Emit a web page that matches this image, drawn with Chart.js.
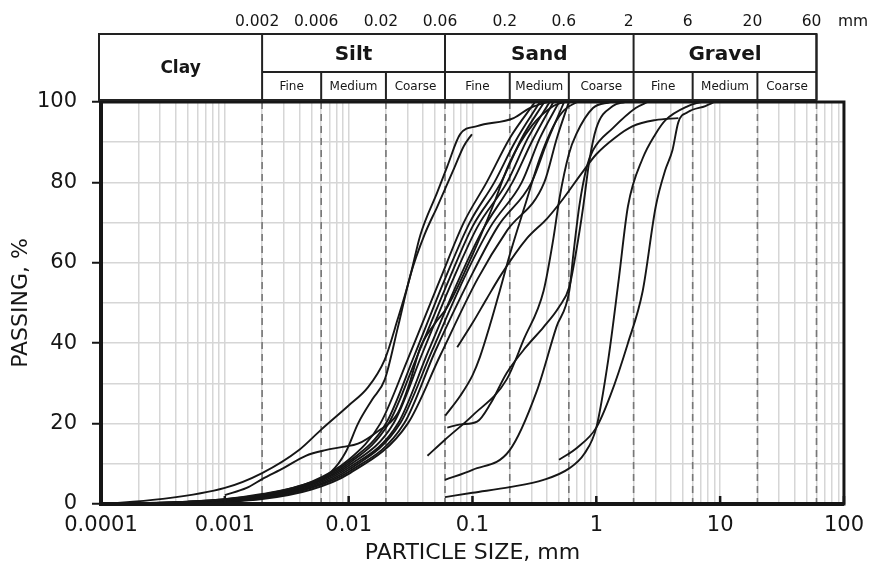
<!DOCTYPE html>
<html>
<head>
<meta charset="utf-8">
<title>Particle size distribution</title>
<script src="https://cdn.jsdelivr.net/npm/chart.js@4.4.1/dist/chart.umd.min.js"></script>
<style>
  html, body { margin: 0; padding: 0; background: #fff; }
  #chart { display: block; }
</style>
</head>
<body>
<canvas id="chart" width="873" height="567"></canvas>
<script>
// grading curves: [particle size mm, % passing]
const sample01 = [[0.0001,0],[0.0003,1.2],[0.001,4],[0.002,7.7],[0.004,13.5],[0.006,18.5],[0.01,24.5],[0.0143,29],[0.0196,36],[0.0249,46],[0.031,56],[0.038,67],[0.052,77.6],[0.0626,84],[0.0796,92],[0.109,94],[0.215,96],[0.29,98.5],[0.4,100]];
const sample02 = [[0.0001,0],[0.0005,0.6],[0.001,1.2],[0.002,2.5],[0.004,4.5],[0.0072,8],[0.0095,13],[0.0119,20],[0.0155,26],[0.0196,31],[0.025,44],[0.0316,57],[0.041,67],[0.052,74],[0.0713,83.6],[0.085,89],[0.099,92]];
const sample03 = [[0.001,2.2],[0.0015,4],[0.002,6.2],[0.003,9],[0.0045,12],[0.0065,13.4],[0.009,14.2],[0.0119,15],[0.017,18],[0.0249,22.6],[0.031,30],[0.038,39],[0.05,45],[0.0626,49],[0.1,62],[0.15,75],[0.2,85],[0.3,94],[0.45,99],[0.55,100]];
const sample04 = [[0.0001,0],[0.0005,0.6],[0.001,1.2],[0.002,2.3],[0.005,5.5],[0.01,11],[0.018,20],[0.03,36],[0.055,56],[0.085,70],[0.13,80],[0.2,91],[0.32,100]];
const sample05 = [[0.0001,0],[0.0005,0.5],[0.001,1.1],[0.002,2.1],[0.005,5.2],[0.01,10.5],[0.02,20],[0.034,37],[0.06,56],[0.095,70],[0.15,80],[0.22,90],[0.35,100]];
const sample06 = [[0.0001,0],[0.0005,0.5],[0.001,1],[0.002,2],[0.005,5],[0.01,10],[0.021,20],[0.036,37],[0.065,56],[0.1,69],[0.17,80],[0.25,91],[0.38,100]];
const sample07 = [[0.0001,0],[0.0005,0.4],[0.001,0.9],[0.002,1.9],[0.005,4.8],[0.01,9.5],[0.023,20],[0.04,38],[0.07,56],[0.11,69],[0.19,80],[0.28,91],[0.42,100]];
const sample08 = [[0.0001,0],[0.0005,0.4],[0.001,0.8],[0.002,1.7],[0.005,4.5],[0.01,9],[0.025,20],[0.044,38],[0.078,56],[0.12,68],[0.21,80],[0.3,90],[0.45,100]];
const sample09 = [[0.0001,0],[0.0005,0.3],[0.001,0.7],[0.002,1.5],[0.005,4.2],[0.01,8.5],[0.026,20],[0.047,38],[0.085,56],[0.14,69],[0.25,80],[0.35,91],[0.5,100]];
const sample10 = [[0.0001,0],[0.0005,0.3],[0.001,0.6],[0.002,1.4],[0.005,4],[0.01,8],[0.028,20],[0.05,38],[0.095,56],[0.16,69],[0.3,80],[0.4,90],[0.55,100]];
const sample11 = [[0.0001,0],[0.0005,0.2],[0.001,0.5],[0.002,1.2],[0.005,3.6],[0.01,7.5],[0.03,20],[0.055,37],[0.11,56],[0.19,68],[0.38,80],[0.48,91],[0.6,100]];
const sample12 = [[0.0603,22],[0.08,27],[0.1,32],[0.115,36.6],[0.14,45],[0.166,53],[0.2,62],[0.27,75],[0.35,86],[0.45,94],[0.55,98],[0.7,100]];
const sample13 = [[0.0626,19],[0.08,19.8],[0.109,20.5],[0.14,25],[0.189,32.6],[0.27,39],[0.375,44],[0.5,49],[0.605,54],[0.689,63],[0.784,74],[0.875,85],[1.0,93.5],[1.36,99],[1.7,100]];
const sample14 = [[0.06,6],[0.1,8.5],[0.2,13.4],[0.33,28],[0.476,44],[0.605,53],[0.652,62],[0.728,74],[0.84,84],[0.94,88],[1.36,93.5],[2.08,98.5],[2.6,100]];
const sample15 = [[0.0433,12],[0.06,16],[0.1,22],[0.189,31],[0.26,41],[0.375,53],[0.45,66],[0.504,76],[0.6,87],[0.689,92],[0.94,98.5],[1.3,100]];
const sample16 = [[0.0753,39],[0.1,45],[0.13,51],[0.17,57],[0.274,66],[0.4,71],[0.542,76],[0.75,82],[1.0,87],[1.4,91],[1.97,94],[3,95.5],[4.6,96]];
const sample17 = [[0.5,11],[0.7,14],[1.0,19],[1.3,27],[1.8,40],[2.37,53],[3.02,74],[3.6,83],[4.12,88],[4.6,95],[5.5,97.5],[7.6,99],[9,100]];
const sample18 = [[0.06,1.7],[0.1,2.8],[0.2,4.2],[0.375,6],[0.6,8.8],[0.8,12.5],[1.0,19],[1.25,36],[1.52,56],[1.8,74],[2.37,86],[3.0,92],[3.62,95.5],[5.5,99],[7,100]];

const samples = [sample01, sample02, sample03, sample04, sample05, sample06, sample07, sample08, sample09,
  sample10, sample11, sample12, sample13, sample14, sample15, sample16, sample17, sample18];

// x axis: log decades, labelled only on the decade lines
const decades = [0.0001, 0.001, 0.01, 0.1, 1, 10, 100];
const decadeLabels = ['0.0001', '0.001', '0.01', '0.1', '1', '10', '100'];
const minorSteps = [1, 2, 3, 4, 5, 6, 7, 8, 9];

// y axis
const passingMax = 100;
const passingStep = 5;
const passingLabelEvery = 20;

// soil classification limits (mm) and header text
const limits = [0.002, 0.006, 0.02, 0.06, 0.2, 0.6, 2, 6, 20, 60];
const limitLabels = ['0.002', '0.006', '0.02', '0.06', '0.2', '0.6', '2', '6', '20', '60'];
const mainClasses = ['Silt', 'Sand', 'Gravel'];
const subClasses = ['Fine', 'Medium', 'Coarse'];

const FONT = '"DejaVu Sans", Verdana, sans-serif';
const INK = '#161616';

const xTickValues = decades.slice(0, -1)
  .flatMap(d => minorSteps.map(m => Number((d * m).toPrecision(6))))
  .concat(decades[decades.length - 1]);

function decadeLabel(value) {
  const i = decades.findIndex(d => Math.abs(Math.log10(value / d)) < 1e-6);
  return i >= 0 ? decadeLabels[i] : '';
}

function line(ctx, x1, y1, x2, y2) {
  ctx.beginPath();
  ctx.moveTo(x1, y1);
  ctx.lineTo(x2, y2);
  ctx.stroke();
}

// dashed class limits under the curves, header table + frame on top
const soilHeader = {
  id: 'soilHeader',
  beforeDatasetsDraw(chart) {
    const { ctx, chartArea: a, scales: { x } } = chart;
    ctx.save();
    ctx.strokeStyle = '#777';
    ctx.lineWidth = 1.6;
    ctx.setLineDash([7, 5]);
    limits.forEach(v => {
      const px = x.getPixelForValue(v);
      line(ctx, px, a.top, px, a.bottom);
    });
    ctx.restore();
  },
  afterDraw(chart) {
    const { ctx, chartArea: a, scales: { x } } = chart;
    const px = v => x.getPixelForValue(v);
    const top = 34, mid = 72, bot = a.top - 2;
    const left = a.left - 2;

    ctx.save();

    // plot frame
    ctx.strokeStyle = INK;
    ctx.lineWidth = 3;
    ctx.strokeRect(a.left, a.top, a.right - a.left, a.bottom - a.top);
    ctx.lineWidth = 4;
    line(ctx, a.left, a.top, a.left, a.bottom + 2);
    line(ctx, a.left - 2, a.bottom, a.right, a.bottom);

    // inward ticks on the decades
    ctx.lineWidth = 2.5;
    decades.forEach(v => line(ctx, px(v), a.bottom, px(v), a.bottom - 8));

    // header table
    ctx.strokeStyle = '#222';
    ctx.lineWidth = 2;
    ctx.fillStyle = '#fff';
    ctx.fillRect(left, top, px(60) - left, bot - top);
    ctx.strokeRect(left, top, px(60) - left, bot - top);
    line(ctx, px(limits[0]), mid, px(60), mid);
    limits.forEach((v, i) => {
      const full = i % 3 === 0;
      line(ctx, px(v), full ? top : mid, px(v), bot);
    });

    ctx.fillStyle = INK;
    ctx.textAlign = 'center';
    ctx.textBaseline = 'middle';

    ctx.font = 'bold 17px ' + FONT;
    ctx.fillText('Clay', (left + px(limits[0])) / 2, (top + bot) / 2 + 2);

    mainClasses.forEach((name, i) => {
      const a0 = px(limits[i * 3]), a1 = px(limits[i * 3 + 3]);
      ctx.font = 'bold 20px ' + FONT;
      ctx.fillText(name, (a0 + a1) / 2, (top + mid) / 2 + 2);
      ctx.font = '12px ' + FONT;
      subClasses.forEach((sub, j) => {
        const b0 = px(limits[i * 3 + j]), b1 = px(limits[i * 3 + j + 1]);
        ctx.fillText(sub, (b0 + b1) / 2, (mid + bot) / 2 + 1);
      });
    });

    // size limits above the table
    ctx.font = '15.5px ' + FONT;
    limits.forEach((v, i) => ctx.fillText(limitLabels[i], px(v) - 5, 22));
    ctx.fillText('mm', 853, 22);

    ctx.restore();
  }
};

new Chart(document.getElementById('chart'), {
  type: 'line',
  data: {
    datasets: samples.map((s, i) => ({
      label: 'Sample ' + (i + 1),
      data: s.map(([size, passing]) => ({ x: size, y: passing })),
      borderColor: INK,
      borderWidth: 1.9,
      pointRadius: 0,
      fill: false,
      cubicInterpolationMode: 'monotone'
    }))
  },
  options: {
    responsive: false,
    animation: false,
    events: [],
    layout: { padding: { top: 102, right: 23, left: 0, bottom: 0 } },
    plugins: {
      legend: { display: false },
      tooltip: { enabled: false }
    },
    scales: {
      x: {
        type: 'logarithmic',
        min: decades[0],
        max: decades[decades.length - 1],
        afterBuildTicks: scale => { scale.ticks = xTickValues.map(v => ({ value: v })); },
        afterFit: scale => { scale.height = 63; },
        border: { display: false },
        grid: { color: '#d6d6d6', lineWidth: 1.5, drawTicks: false },
        ticks: {
          autoSkip: false,
          maxRotation: 0,
          padding: 9,
          color: INK,
          font: { family: FONT, size: 21 },
          callback: value => decadeLabel(value)
        },
        title: {
          display: true,
          text: 'PARTICLE SIZE, mm',
          color: INK,
          font: { family: FONT, size: 22 },
          padding: { top: 4, bottom: 1 }
        }
      },
      y: {
        min: 0,
        max: passingMax,
        afterFit: scale => { scale.width = 101; },
        border: { display: false },
        grid: {
          color: '#d6d6d6',
          lineWidth: 1.5,
          drawTicks: true,
          tickLength: 9,
          tickWidth: 2,
          tickColor: c => (c.tick && c.tick.value % passingLabelEvery === 0) ? INK : 'rgba(0,0,0,0)'
        },
        ticks: {
          stepSize: passingStep,
          padding: 15,
          color: INK,
          font: { family: FONT, size: 21 },
          callback: value => value % passingLabelEvery === 0 ? String(value) : ''
        },
        title: {
          display: true,
          text: 'PASSING, %',
          color: INK,
          font: { family: FONT, size: 22 },
          padding: { top: 8, bottom: 4 }
        }
      }
    }
  },
  plugins: [soilHeader]
});
</script>
</body>
</html>
